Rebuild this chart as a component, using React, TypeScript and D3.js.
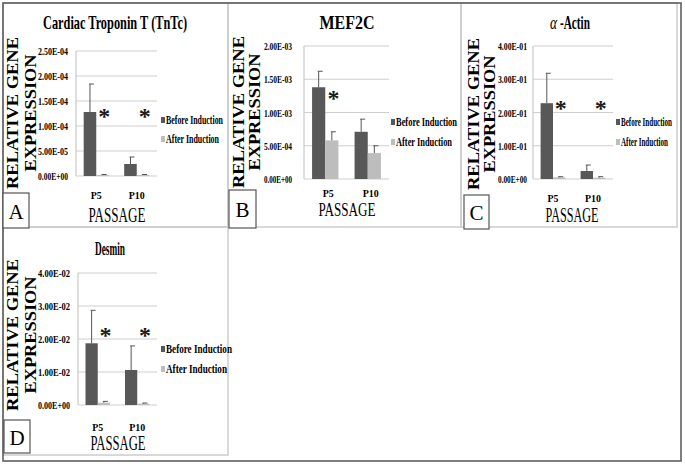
import React from "react";
import * as d3 from "d3";

const categories = ["P5", "P10"];
const seriesNames = ["Before Induction", "After Induction"];

const titles = ["Cardiac Troponin T (TnTc)", "MEF2C", "-Actin", "Desmin"];
const titlePrefix = ["", "", "α", ""];
const letters = ["A", "B", "C", "D"];

const yMax = [2.5e-4, 2.0e-3, 0.4, 0.04];
const yStep = [5e-5, 5e-4, 0.1, 0.01];

const tnBefore = [1.28e-4, 2.4e-5];
const tnBeforeErr = [5.6e-5, 1.4e-5];
const tnAfter = [2e-6, 2e-6];
const tnAfterErr = [1e-6, 1e-6];

const mefBefore = [1.38e-3, 7.1e-4];
const mefBeforeErr = [2.4e-4, 1.9e-4];
const mefAfter = [5.8e-4, 3.9e-4];
const mefAfterErr = [1.3e-4, 1.1e-4];

const actBefore = [0.228, 0.024];
const actBeforeErr = [0.09, 0.018];
const actAfter = [0.005, 0.004];
const actAfterErr = [0.002, 0.003];

const desBefore = [0.0187, 0.0106];
const desBeforeErr = [0.01, 0.0073];
const desAfter = [0.0007, 0.0004];
const desAfterErr = [0.0004, 0.0002];

const significant = [
  [true, true],
  [true, false],
  [true, true],
  [true, true],
];

const seriesData = [
  [tnBefore, tnAfter],
  [mefBefore, mefAfter],
  [actBefore, actAfter],
  [desBefore, desAfter],
];
const errData = [
  [tnBeforeErr, tnAfterErr],
  [mefBeforeErr, mefAfterErr],
  [actBeforeErr, actAfterErr],
  [desBeforeErr, desAfterErr],
];

// layout (positions/styles)
const layouts = [
  { x0: 76, x1: 157, y0: 176, y1: 51, titleX: 115, titleY: 29, titleW: 144, tickR: 68, tickW: 30,
    yt1: 12, yt2: 30, ytc: 113, legX: 161, legY: [120, 139], legW: [62, 58], catY: 195, passX: 117, passY: 215, passW: 57,
    starY: 114, box: [3, 193, 26, 35] },
  { x0: 304, x1: 389, y0: 179, y1: 46, titleX: 347, titleY: 29, titleW: 55, tickR: 292, tickW: 28,
    yt1: 238, yt2: 254, ytc: 112, legX: 391, legY: [122, 142], legW: [66, 61], catY: 193, passX: 347, passY: 210, passW: 57,
    starY: 96, box: [229, 190, 27, 38] },
  { x0: 533, x1: 613, y0: 179, y1: 46, titleX: 575, titleY: 29, titleW: 30, tickR: 527, tickW: 29,
    yt1: 473, yt2: 489, ytc: 114, legX: 616, legY: [122, 142], legW: [56, 52], catY: 198, passX: 572, passY: 215, passW: 53,
    starY: 106, box: [464, 195, 25, 34] },
  { x0: 78, x1: 157, y0: 405, y1: 273, titleX: 110, titleY: 255, titleW: 30, tickR: 70, tickW: 32,
    yt1: 12, yt2: 30, ytc: 335, legX: 161, legY: [349, 369], legW: [71, 66], catY: 427, passX: 118, passY: 443, passW: 55,
    starY: 333, box: [4, 420, 26, 33] },
];

const barColors = ["#585858", "#bdbdbd"];
const FONT = "'Liberation Serif', 'Times New Roman', serif";
const LEG_SCALE = 0.6;

function fmtE(v: number) {
  const s = v.toExponential(2).toUpperCase();
  const [m, e] = s.split("E");
  const n = parseInt(e, 10);
  const sign = n < 0 ? "-" : "+";
  const abs = Math.abs(n).toString().padStart(2, "0");
  return `${m}E${sign}${abs}`;
}

function Panel({ i }: { i: number }) {
  const L = layouts[i];
  const y = d3.scaleLinear().domain([0, yMax[i]]).range([L.y0, L.y1]);
  const x = d3.scaleBand<string>().domain(categories).range([L.x0, L.x1]).paddingInner(0).paddingOuter(0);
  const bw = x.bandwidth() * 0.31;
  const ticks = d3.range(0, yMax[i] + yStep[i] / 2, yStep[i]);
  const catLabelW = [11, 16];
  return (
    <g>
      {ticks.map((t, k) => (
        <g key={k}>
          <line x1={L.x0} x2={L.x1} y1={y(t)} y2={y(t)} stroke="#cfcfcf" strokeWidth={1.2} />
          <text x={L.tickR} y={y(t)} dominantBaseline="central" textAnchor="end" fontSize={11} fontWeight="bold"
            fontFamily={FONT} textLength={L.tickW} lengthAdjust="spacingAndGlyphs">{fmtE(t)}</text>
        </g>
      ))}
      <line x1={L.x0} x2={L.x0} y1={L.y1} y2={L.y0} stroke="#cacaca" strokeWidth={1.2} />
      {categories.map((c, ci) => {
        const cx = (x(c) as number) + x.bandwidth() / 2;
        return (
          <g key={c}>
            {[0, 1].map((s) => {
              const v = seriesData[i][s][ci];
              const e = errData[i][s][ci];
              const bx = cx - bw + s * bw;
              const mx = bx + bw / 2;
              return (
                <g key={s}>
                  <rect x={bx} y={y(v)} width={bw} height={L.y0 - y(v)} fill={barColors[s]} />
                  <line x1={mx} x2={mx} y1={y(v)} y2={y(v + e)} stroke="#555" strokeWidth={1} />
                  <line x1={mx - 1} x2={mx + 4} y1={y(v + e)} y2={y(v + e)} stroke="#555" strokeWidth={1} />
                </g>
              );
            })}
            {significant[i][ci] && (
              <text x={cx + bw * 0.55 + 1} y={L.starY + 10} textAnchor="middle" fontSize={24} fontWeight="bold"
                fontFamily={FONT} fill="#1a1a1a">*</text>
            )}
            <text x={cx + (i === 1 ? 3 : 0)} y={L.catY} textAnchor="middle" dominantBaseline="central" fontSize={11}
              fontWeight="bold" fontFamily={FONT} textLength={catLabelW[ci]} lengthAdjust="spacingAndGlyphs">{c}</text>
          </g>
        );
      })}
      {titlePrefix[i] && (
        <text x={L.titleX - L.titleW / 2 - 3} y={L.titleY} textAnchor="end" fontSize={19} fontStyle="italic"
          fontFamily={FONT} textLength={7} lengthAdjust="spacingAndGlyphs">{titlePrefix[i]}</text>
      )}
      <text x={L.titleX} y={L.titleY} textAnchor="middle" fontSize={19} fontWeight="bold" fontFamily={FONT}
        textLength={L.titleW} lengthAdjust="spacingAndGlyphs">{titles[i]}</text>
      <text transform={`translate(${L.yt1},${L.ytc}) rotate(-90)`} textAnchor="middle" dominantBaseline="central"
        fontSize={17} fontWeight="bold" fontFamily={FONT} textLength={152} lengthAdjust="spacingAndGlyphs">RELATIVE GENE</text>
      <text transform={`translate(${L.yt2},${L.ytc}) rotate(-90)`} textAnchor="middle" dominantBaseline="central"
        fontSize={17} fontWeight="bold" fontFamily={FONT} textLength={117} lengthAdjust="spacingAndGlyphs">EXPRESSION</text>
      {seriesNames.map((n, s) => (
        <g key={n}>
          <rect x={L.legX} y={L.legY[s] - 3} width={4} height={6} fill={barColors[s]} />
          <text transform={`translate(${L.legX + 5},${L.legY[s]}) scale(${LEG_SCALE},1)`} dominantBaseline="central"
            fontSize={12} fontWeight="bold" fontFamily={FONT} textLength={(L.legW[s] - 5) / LEG_SCALE}
            lengthAdjust="spacingAndGlyphs">{n}</text>
        </g>
      ))}
      <text x={L.passX} y={L.passY} textAnchor="middle" dominantBaseline="central" fontSize={i === 1 ? 18 : 20}
        fontFamily={FONT} textLength={L.passW} lengthAdjust="spacingAndGlyphs">PASSAGE</text>
      <rect x={L.box[0]} y={L.box[1]} width={L.box[2]} height={L.box[3]} fill="#fff" stroke="#555" strokeWidth={1.2} />
      <text x={L.box[0] + L.box[2] / 2} y={L.box[1] + L.box[3] / 2 + 1} textAnchor="middle" dominantBaseline="central"
        fontSize={21} fontFamily={FONT}>{letters[i]}</text>
    </g>
  );
}

const panelRects = [
  [3, 3, 225, 224],
  [228, 3, 233, 224],
  [461, 3, 216, 224],
  [3, 227, 225, 228],
];

export default function App() {
  return (
    <svg width={685} height={464} style={{ position: "absolute", left: 0, top: 0, background: "#fff" }}>
      <rect x={0} y={0} width={685} height={464} fill="#fff" />
      {panelRects.map((r, k) => (
        <rect key={k} x={r[0]} y={r[1]} width={r[2]} height={r[3]} fill="none" stroke="#cccccc" strokeWidth={1.5} />
      ))}
      <rect x={3} y={3} width={678} height={458} fill="none" stroke="#555" strokeWidth={1.5} />
      {[0, 1, 2, 3].map((i) => (
        <Panel key={i} i={i} />
      ))}
    </svg>
  );
}
